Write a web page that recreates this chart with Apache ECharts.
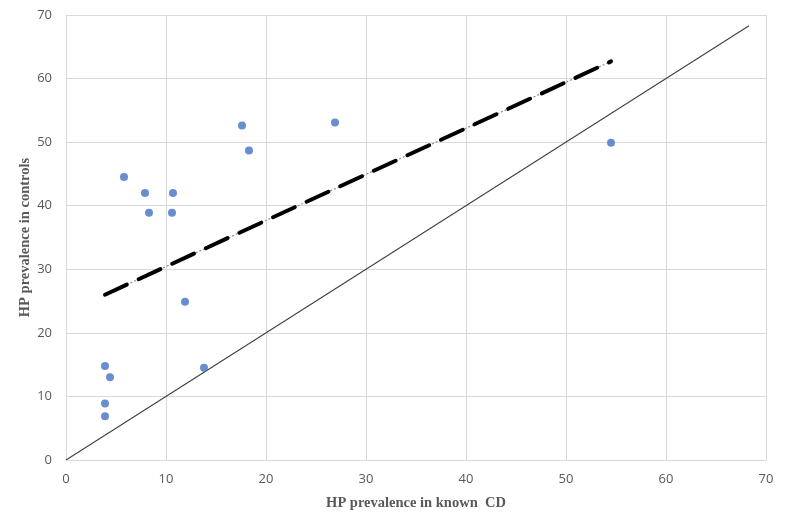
<!DOCTYPE html>
<html>
<head>
<meta charset="utf-8">
<script src="https://cdn.jsdelivr.net/npm/echarts@6/dist/echarts.min.js"></script>
<style>
    html, body { margin: 0; padding: 0; background: #fff; }
    #chart { width: 787px; height: 524px; }
</style>
</head>
<body>
<div id="chart"></div>
<script>
// HP prevalence: known CD (x) vs controls (y), one point per study
var cdPrevalence = [5.8, 7.9, 10.7, 8.3, 10.6, 17.6, 18.3, 26.9, 11.9, 3.9, 4.4, 3.9, 3.9, 13.8, 54.5];
var controlPrevalence = [44.5, 42.0, 42.0, 38.9, 38.9, 52.6, 48.7, 53.1, 24.9, 14.8, 13.0, 8.9, 6.9, 14.5, 49.9];
// linear trend (start and end)
var trendX = [3.9, 54.5];
var trendY = [26.0, 62.7];
// line of equality
var equalityX = [0, 68.3];
var equalityY = [0, 68.3];

function zipPoints(xs, ys) {
    return xs.map(function (x, i) { return [x, ys[i]]; });
}

function renderChart(dom) {
    if (!dom) return;
    var myChart = echarts.init(dom);
    var axisLabel = {
        color: '#595959',
        fontSize: 13,
        fontFamily: 'Open Sans'
    };
    var nameStyle = {
        color: '#595959',
        fontSize: 14.5,
        fontWeight: 'bold',
        fontFamily: 'Liberation Serif'
    };
    var gridLine = { lineStyle: { color: '#d9d9d9', width: 1 } };
    var option = {
        backgroundColor: '#fff',
        animation: false,
        grid: { left: 66, right: 21, top: 15, bottom: 64 },
        xAxis: {
            type: 'value',
            min: 0,
            max: 70,
            interval: 10,
            name: 'HP prevalence in known  CD',
            nameLocation: 'middle',
            nameGap: 36,
            nameMoveOverlap: false,
            nameTextStyle: nameStyle,
            axisLine: { show: true, lineStyle: { color: '#d9d9d9' } },
            axisTick: { show: false },
            axisLabel: Object.assign({ margin: 13 }, axisLabel),
            splitLine: gridLine
        },
        yAxis: {
            type: 'value',
            min: 0,
            max: 70,
            interval: 10,
            name: 'HP prevalence in controls',
            nameLocation: 'middle',
            nameGap: 33,
            nameMoveOverlap: false,
            nameTextStyle: nameStyle,
            axisLine: { show: true, lineStyle: { color: '#d9d9d9' } },
            axisTick: { show: false },
            axisLabel: Object.assign({ margin: 14 }, axisLabel),
            splitLine: gridLine
        },
        series: [
            {
                name: 'equality',
                type: 'line',
                data: zipPoints(equalityX, equalityY),
                symbol: 'none',
                lineStyle: { color: '#404040', width: 1.1 },
                z: 2
            },
            {
                name: 'trend dots',
                type: 'line',
                data: zipPoints(trendX, trendY),
                symbol: 'none',
                lineStyle: { color: '#7f8fb5', width: 1.2, type: [2, 2] },
                z: 3
            },
            {
                name: 'trend',
                type: 'line',
                data: zipPoints(trendX, trendY),
                symbol: 'none',
                lineStyle: { color: '#000', width: 4, type: [24, 13], cap: 'round' },
                z: 4
            },
            {
                name: 'studies',
                type: 'scatter',
                data: zipPoints(cdPrevalence, controlPrevalence),
                symbolSize: 8,
                itemStyle: { color: '#4472c4' },
                z: 5
            }
        ]
    };
    option && myChart.setOption(option);
}

renderChart(document.getElementById('chart'));
</script>
</body>
</html>
